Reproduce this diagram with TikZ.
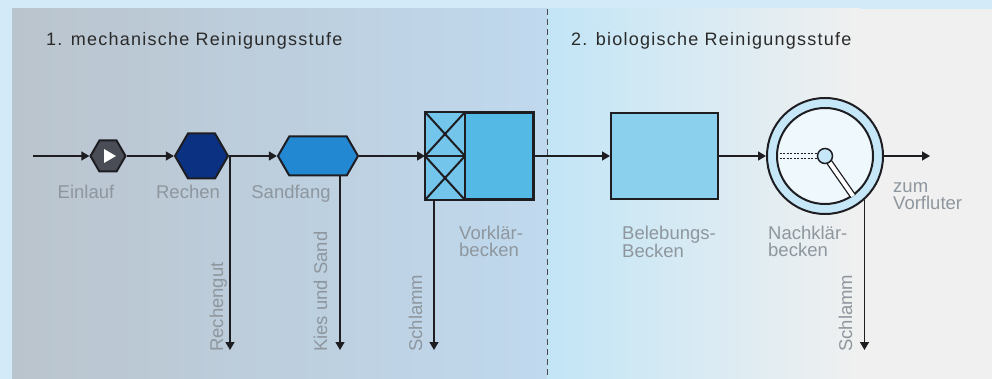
\documentclass[tikz,border=0pt]{standalone}
\usepackage{fontspec}
\setmainfont{Liberation Sans}
\newfontfamily\titlefont[LetterSpace=7]{Liberation Sans}
\usetikzlibrary{arrows.meta,shapes.symbols,calc}

\definecolor{outerblue}{HTML}{D3EBF8}
\definecolor{mechL}{HTML}{BAC4CD}
\definecolor{mechR}{HTML}{C0D9EE}
\definecolor{bioL}{HTML}{C2E5F6}
\definecolor{bioR}{HTML}{F0F0F0}
\definecolor{einfill}{HTML}{4A4D55}
\definecolor{recfill}{HTML}{0B3182}
\definecolor{sandfill}{HTML}{2288D2}
\definecolor{vkleft}{HTML}{74C5EB}
\definecolor{vkright}{HTML}{55B9E6}
\definecolor{bbfill}{HTML}{8BD1EE}
\definecolor{ringfill}{HTML}{C5E7F8}
\definecolor{basinfill}{HTML}{EEF8FD}
\definecolor{lblgray}{HTML}{8E969E}
\definecolor{titlegray}{HTML}{2A2A2A}
\definecolor{linecol}{HTML}{1E1E22}

\begin{document}
\begin{tikzpicture}[x=1pt,y=-1pt,
  hexa/.style={signal, signal to=east and west, signal pointer angle=120,
    draw=linecol, line width=2pt, inner sep=0pt},
  tank/.style={rectangle, draw=linecol, line width=2pt, inner sep=0pt,
    minimum width=107pt, minimum height=86pt},
  flow/.style={draw=linecol, line width=1.5pt, -{Triangle[length=8pt,width=9pt]}},
  lbl/.style={text=lblgray, font=\fontsize{18.5}{17}\selectfont, inner sep=0pt},
  stage/.style={text=titlegray, font=\titlefont\fontsize{18}{18}\selectfont, inner sep=0pt},
  divider/.style={draw=linecol!80, line width=1pt, dash pattern=on 6pt off 4pt}]

\useasboundingbox (0,0) rectangle (992,379);
\fill[outerblue] (0,0) rectangle (992,379);
\shade[left color=mechL, right color=mechR] (12,9) rectangle (547,379);
\shade[left color=bioL, right color=bioR] (547,9) rectangle (860,379);
\fill[bioR] (860,9) rectangle (992,379);
\draw[divider] (547,9) -- (547,379);

\node[stage, anchor=base west] (st1) at (46,46) {1. mechanische Reinigungsstufe};
\node[stage, anchor=base west] (st2) at (571,46) {2. biologische Reinigungsstufe};

% mechanische Stufe
\coordinate (in) at (33,156);
\node[hexa, fill=einfill, minimum width=35pt, minimum height=31pt] (ein) at (108,156) {};
\fill[white] ($(ein)+(-4,-7)$) -- ($(ein)+(8,0)$) -- ($(ein)+(-4,7)$) -- cycle;
\node[hexa, fill=recfill, minimum width=53pt, minimum height=45pt] (rec) at (201.5,156) {};
\node[hexa, fill=sandfill, minimum width=80pt, minimum height=39pt] (sf) at (318,156) {};
\node[tank, fill=vkright] (vkb) at (479.5,156) {};
\fill[vkleft] (vkb.north west) rectangle ($(vkb.south west)+(40,0)$);
\draw[linecol, line width=2pt] ($(vkb.north west)+(40,0)$) -- ($(vkb.south west)+(40,0)$);
\draw[linecol, line width=2pt] (vkb.west) -- ($(vkb.west)+(40,0)$);
\draw[linecol, line width=2pt] (vkb.north west) -- ($(vkb.west)+(40,0)$);
\draw[linecol, line width=2pt] ($(vkb.north west)+(40,0)$) -- (vkb.west);
\draw[linecol, line width=2pt] (vkb.west) -- ($(vkb.south west)+(40,0)$);
\draw[linecol, line width=2pt] ($(vkb.west)+(40,0)$) -- (vkb.south west);
\draw[linecol, line width=2pt] (vkb.north west) rectangle (vkb.south east);

% biologische Stufe
\node[tank, fill=bbfill] (bb) at (664.5,156) {};
\node[circle, draw=linecol, line width=2pt, fill=ringfill, minimum size=116pt, inner sep=0pt] (nkb) at (825,156) {};
\node[circle, draw=linecol, line width=2pt, fill=basinfill, minimum size=96pt, inner sep=0pt] (nki) at (nkb) {};
\draw[linecol, line width=1.3pt, dash pattern=on 2pt off 1.5pt] ($(nki.west)+(0,-2.5)$) -- ($(nkb)+(0,-2.5)$);
\draw[linecol, line width=1.3pt, dash pattern=on 2pt off 1.5pt] ($(nki.west)+(0,2.5)$) -- ($(nkb)+(0,2.5)$);
\draw[linecol, line width=1.3pt, double=white, double distance=4pt] (nkb.center) -- (nki.-55);
\node[circle, draw=linecol, line width=1.5pt, fill=ringfill, minimum size=15pt, inner sep=0pt] (hub) at (nkb) {};
\coordinate (out) at (930,156);

% Zulauf und Hauptstrom
\draw[flow] (in) -- (ein);
\draw[flow] (ein) -- (rec);
\draw[flow] (rec) -- (sf);
\draw[flow] (sf) -- (vkb);
\draw[flow] (vkb) -- (bb);
\draw[flow] (bb) -- (nkb);
\draw[flow] (nkb) -- (out);

% Abzug
\coordinate (gut) at (230,350);
\coordinate (sand) at (340,350);
\coordinate (schl1) at (434,350);
\coordinate (schl2) at (864,350);
\draw[flow] (rec.east -| gut) -- (gut);
\draw[flow] (sf.south -| sand) -- (sand);
\draw[flow] (vkb.south -| schl1) -- (schl1);
\draw[flow] (nkb.-48) -- (nkb.-48 |- schl2);

\node[lbl, anchor=base] (lein) at (86,199) {Einlauf};
\node[lbl, anchor=base] (lrec) at (188,199) {Rechen};
\node[lbl, anchor=base] (lsf) at (291,199) {Sandfang};
\node[lbl, anchor=north west, align=left] (lvkb) at (459,226) {Vorklär-\\becken};
\node[lbl, anchor=north west, align=left] (lbb) at (622,226) {Belebungs-\\Becken};
\node[lbl, anchor=north west, align=left] (lnkb) at (768,226) {Nachklär-\\becken};
\node[lbl, anchor=north west, align=left] (lout) at (893,182) {zum\\Vorfluter};

\node[lbl, rotate=90, anchor=base west] (lgut) at (223,352) {Rechengut};
\node[lbl, rotate=90, anchor=base west] (lsand) at (327,352) {Kies und Sand};
\node[lbl, rotate=90, anchor=base west] (lschl1) at (422,352) {Schlamm};
\node[lbl, rotate=90, anchor=base west] (lschl2) at (852,352) {Schlamm};
\end{tikzpicture}
\end{document}
